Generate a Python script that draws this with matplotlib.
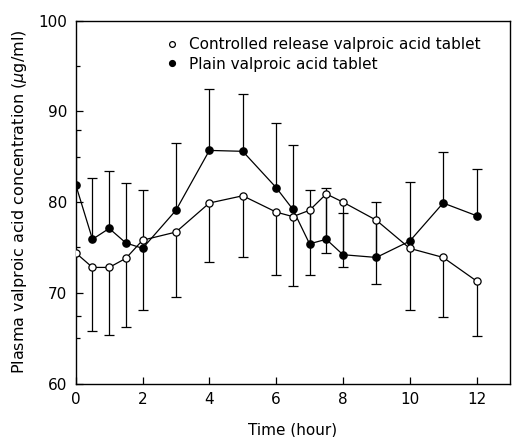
import numpy as np
import matplotlib
matplotlib.use("Agg")
import matplotlib.pyplot as plt

##### DOC data
time = [0, 0.5, 1, 1.5, 2, 3, 4, 5, 6, 6.5, 7, 7.5, 8, 9, 10, 11, 12]

# controlled release (open circles), error bar drawn downwards
cr_mean = [74.4, 72.8, 72.8, 73.8, 75.8, 76.7, 79.9, 80.7, 78.9, 78.4, 79.1, 80.9, 80.0, 78.0, 74.9, 73.9, 71.3]
cr_low = [67.4, 65.8, 65.3, 66.2, 68.1, 69.5, 73.4, 73.9, 72.0, 70.7, 72.0, 74.4, 72.9, 71.0, 68.1, 67.3, 65.2]

# plain tablet (filled circles), error bar drawn upwards
pl_mean = [81.9, 75.9, 77.1, 75.5, 74.9, 79.1, 85.7, 85.6, 81.6, 79.2, 75.4, 75.9, 74.2, 73.9, 75.7, 79.9, 78.5]
pl_high = [88.0, 82.7, 83.4, 82.1, 81.3, 86.5, 92.5, 91.9, 88.7, 86.3, 81.3, 81.6, 78.8, 80.0, 82.2, 85.5, 83.6]

cr_label = "Controlled release valproic acid tablet"
pl_label = "Plain valproic acid tablet"
##########

plt.rcParams['font.family'] = 'DejaVu Sans'
plt.rcParams['font.size'] = 10

cr_mean = np.array(cr_mean)
pl_mean = np.array(pl_mean)
cr_err = cr_mean - np.array(cr_low)
pl_err = np.array(pl_high) - pl_mean
zero = np.zeros(len(time))

fig = plt.figure(figsize=(5.12, 4.37), dpi=100)
ax = fig.add_axes([0.148, 0.1224, 0.848, 0.8302])

# one-sided error bars, drop the cap on the empty side
eb = ax.errorbar(time, pl_mean, yerr=[zero, pl_err], fmt='none', ecolor='black',
                 elinewidth=0.9, capsize=3.6, capthick=0.9, zorder=2)
eb[1][0].remove()
eb = ax.errorbar(time, cr_mean, yerr=[cr_err, zero], fmt='none', ecolor='black',
                 elinewidth=0.9, capsize=3.6, capthick=0.9, zorder=2)
eb[1][1].remove()

ax.plot(time, pl_mean, color='black', lw=0.9, marker='o', markersize=5.2,
        markerfacecolor='black', markeredgecolor='black', label=pl_label, zorder=3)
ax.plot(time, cr_mean, color='black', lw=0.9, marker='o', markersize=5.2,
        markerfacecolor='white', markeredgecolor='black', markeredgewidth=0.9,
        label=cr_label, zorder=4)

ax.set_xlim(0, 13)
ax.set_ylim(60, 100)
ax.set_xticks(np.arange(0, 13, 2))
ax.set_yticks(np.arange(60, 101, 10))
ax.set_yticks(np.arange(60, 101, 5), minor=True)
ax.tick_params(direction='in', length=5, width=0.9, labelsize=11, pad=6)
ax.tick_params(which='minor', direction='in', length=3, width=0.9)
ax.tick_params(axis='x', top=False)
for s in ax.spines.values():
    s.set_linewidth(1.0)

ax.set_xlabel("Time (hour)", fontsize=11, labelpad=11)
ax.set_ylabel(r"Plasma valproic acid concentration ($\mu$g/ml)", fontsize=11.5, labelpad=7)

# legend: handles in reference order (open first)
h, l = ax.get_legend_handles_labels()
leg = ax.legend(h[::-1], l[::-1], loc='upper left', bbox_to_anchor=(0.19, 0.993),
                frameon=False, fontsize=11, handlelength=0, handletextpad=1.1,
                labelspacing=0.3, markerscale=0.8)

plt.savefig("out.png", dpi=100)
